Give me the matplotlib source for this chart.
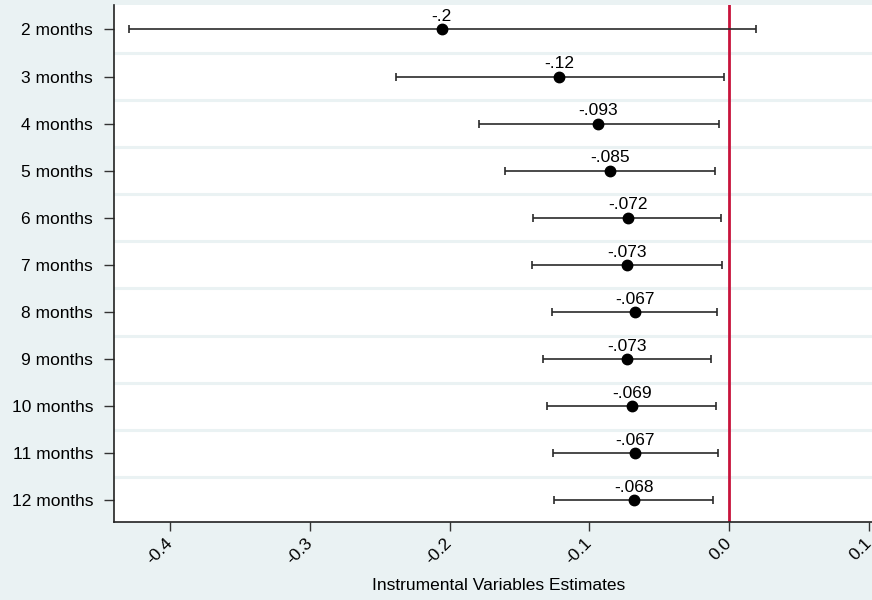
import matplotlib
matplotlib.use("Agg")
import matplotlib.pyplot as plt

plt.rcParams['font.family'] = ['Liberation Sans', 'DejaVu Sans']

months = ["2 months", "3 months", "4 months", "5 months", "6 months", "7 months",
          "8 months", "9 months", "10 months", "11 months", "12 months"]
estimates = [-0.2055, -0.1218, -0.0935, -0.0855, -0.0724, -0.0734,
             -0.0674, -0.0734, -0.0694, -0.0674, -0.0684]
point_labels = ["-.2", "-.12", "-.093", "-.085", "-.072", "-.073",
                "-.067", "-.073", "-.069", "-.067", "-.068"]
ci_low = [-0.429, -0.238, -0.179, -0.160, -0.140, -0.141,
          -0.127, -0.1335, -0.130, -0.126, -0.1255]
ci_high = [0.019, -0.004, -0.007, -0.0105, -0.0057, -0.0055,
           -0.0086, -0.0129, -0.0091, -0.0081, -0.0117]
xticks = [-0.4, -0.3, -0.2, -0.1, 0.0, 0.1]
xtick_labels = ["-0.4", "-0.3", "-0.2", "-0.1", "0.0", "0.1"]
xlabel = "Instrumental Variables Estimates"

BG = "#EAF2F3"
W, H = 872, 600
fig = plt.figure(figsize=(W / 100, H / 100), dpi=100, facecolor=BG)
ax_left, ax_right, ax_top, ax_bottom = 114, 883, 5, 522
ax = fig.add_axes([ax_left / W, 1 - ax_bottom / H, (ax_right - ax_left) / W, (ax_bottom - ax_top) / H])
ax.set_facecolor("white")

ypos = list(range(len(months)))
# grid lines between rows
for k in range(len(months) - 1):
    ax.axhline(k + 0.5, color=BG, lw=2.2, zorder=0)

ax.axvline(0.0, color="#C8133B", lw=2, zorder=1)

err_lo = [e - l for e, l in zip(estimates, ci_low)]
err_hi = [h - e for e, h in zip(estimates, ci_high)]
ax.errorbar(estimates, ypos, xerr=[err_lo, err_hi], fmt="none", ecolor="#2a2a2a",
            elinewidth=1.2, capsize=3, capthick=1.2, zorder=2)
ax.plot(estimates, ypos, "o", color="black", markersize=7.5, zorder=3)
for x, y, t in zip(estimates, ypos, point_labels):
    ax.annotate(t, (x, y), xytext=(0, 6), textcoords="offset points",
                ha="center", va="baseline", fontsize=12.5, color="black", zorder=4)

ax.set_xlim(-0.44, 0.11)
ax.set_ylim(len(months) - 1 + 0.46, -0.52)
ax.set_yticks(ypos)
ax.set_yticklabels(months, fontsize=12.5)
ax.set_xticks(xticks)
ax.set_xticklabels(xtick_labels, rotation=45, fontsize=12.5,
                   ha="right", va="center", rotation_mode="anchor")
ax.tick_params(axis="y", direction="out", length=7, width=1, color="#333333", pad=8)
ax.tick_params(axis="x", direction="out", length=6.5, width=1, color="#333333", pad=7)
ax.set_xlabel(xlabel, fontsize=12.5, va="top")
ax.xaxis.set_label_coords(0.5, -0.108)

for s in ["top", "right"]:
    ax.spines[s].set_visible(False)
for s in ["left", "bottom"]:
    ax.spines[s].set_color("#222222")
    ax.spines[s].set_linewidth(1.2)

fig.savefig("out.png", dpi=100, facecolor=BG)
